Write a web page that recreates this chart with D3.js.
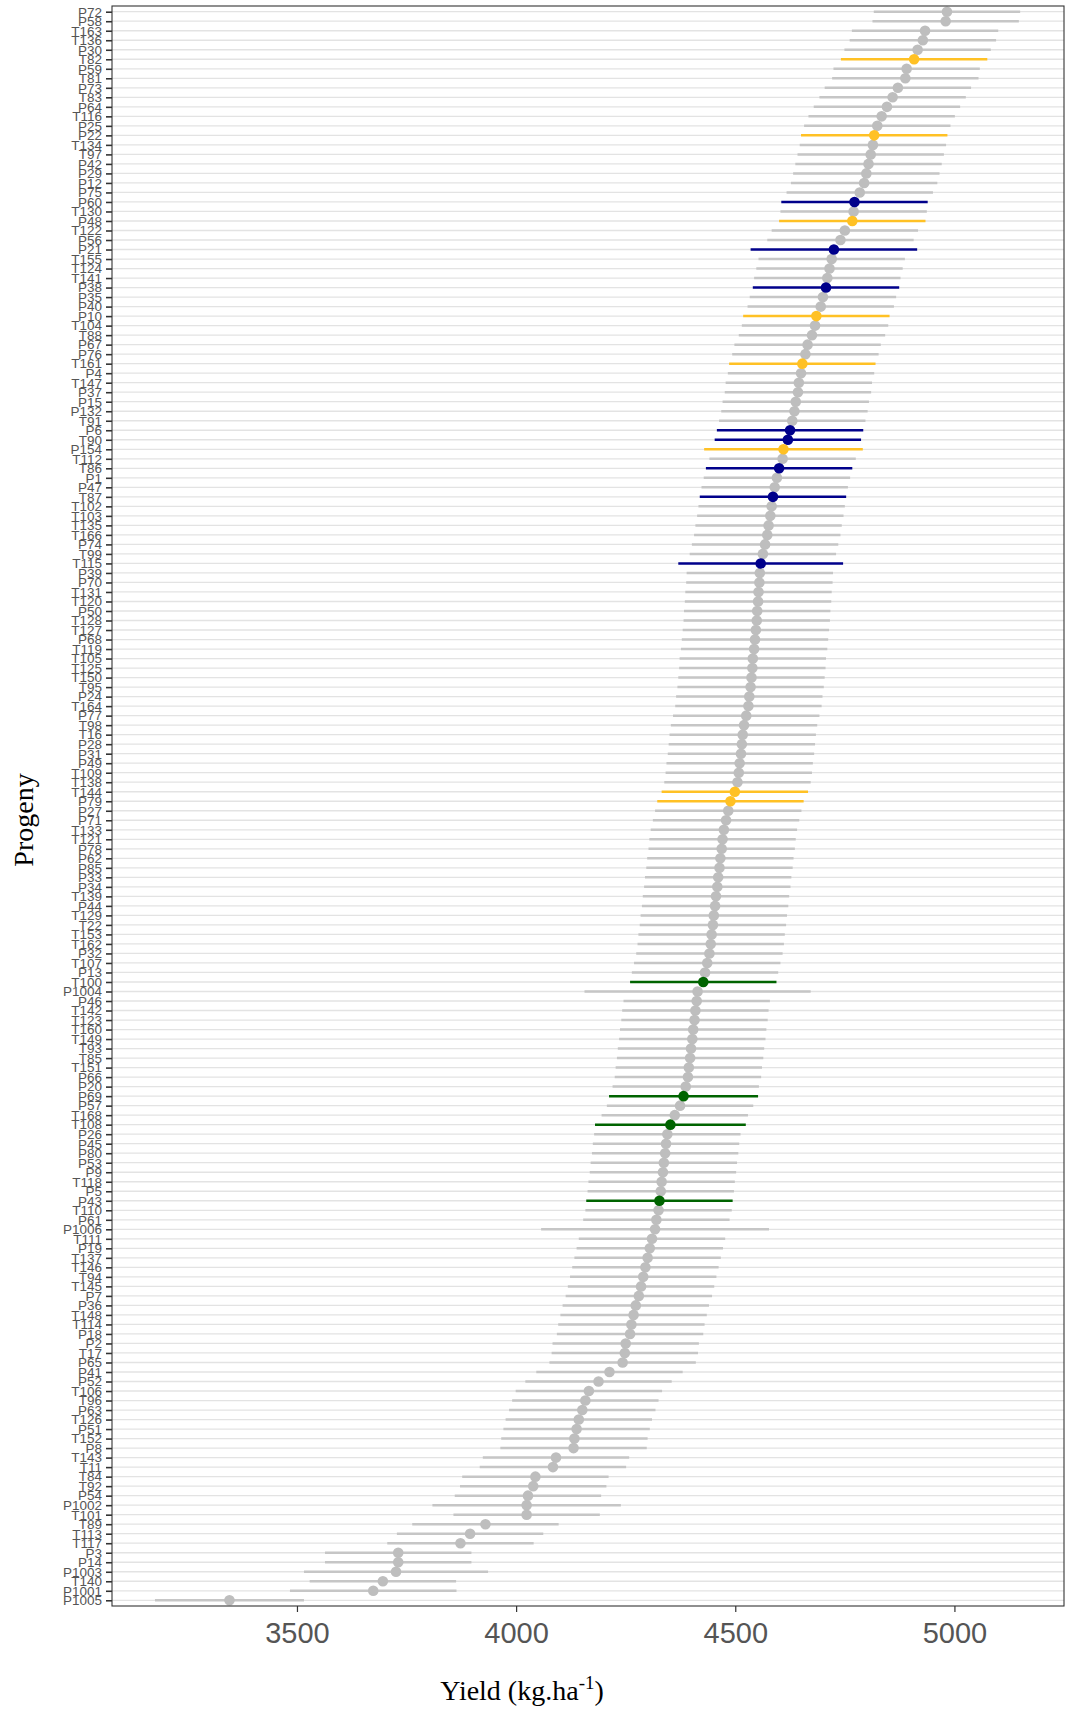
<!DOCTYPE html>
<html>
<head>
<meta charset="utf-8">
<script src="https://cdn.jsdelivr.net/npm/d3@7"></script>
<style>
  body { margin: 0; background: #fff; }
</style>
</head>
<body>
<svg width="1065" height="1710"></svg>
<script>
// progeny, top to bottom as drawn
var progeny = [
  "P72","P58","T163","T136","P30","T82","P59","T81","P73","T83",
  "P64","T116","P25","P22","T134","T97","P42","P29","P12","P75",
  "P60","T130","P48","T122","P56","P21","T155","T124","T141","P38",
  "P35","P40","P10","T104","T88","P67","P76","T161","P4","T147",
  "P37","P15","P132","T91","P6","T90","P154","T112","T86","P1",
  "P47","T87","T102","T103","T135","T166","P74","T99","T115","P39",
  "P70","T131","T120","P50","T128","T127","P68","T119","T105","T125",
  "T150","T95","P24","T164","P77","T98","T16","P28","P31","P49",
  "T109","T138","T144","P79","P27","P71","T133","T121","P78","P62",
  "P85","P33","P34","T139","P44","T129","T22","T153","T162","P32",
  "T107","P13","T100","P1004","P46","T142","T123","T160","T149","T93",
  "T85","T151","P66","P20","P69","P57","T168","T108","P26","P45",
  "P80","P53","P9","T118","P5","P43","T110","P61","P1006","T111",
  "P19","T137","T146","T94","T145","P7","P36","T148","T114","P18",
  "P2","T17","P65","P41","P52","T106","T96","P63","T126","P51",
  "T152","P8","T143","T11","T84","T92","P54","P1002","T101","T89",
  "T113","T117","P3","P14","P1003","T140","P1001","P1005"
];

// mean yield (kg/ha)
var yieldMean = [
  4983,4980,4933,4928,4916,4908,4891,4888,4871,4859,
  4846,4834,4824,4817,4814,4809,4804,4799,4794,4784,
  4772,4770,4767,4750,4740,4725,4720,4715,4710,4707,
  4700,4695,4685,4682,4675,4665,4660,4653,4650,4645,
  4643,4638,4635,4630,4625,4620,4610,4608,4600,4595,
  4590,4586,4583,4580,4576,4573,4568,4563,4558,4556,
  4555,4553,4552,4550,4549,4547,4545,4543,4540,4539,
  4537,4535,4532,4530,4525,4520,4517,4515,4513,4510,
  4508,4505,4499,4489,4484,4479,4474,4471,4469,4466,
  4464,4461,4459,4456,4454,4451,4449,4446,4444,4441,
  4436,4431,4427,4414,4412,4409,4407,4404,4402,4399,
  4397,4394,4392,4387,4382,4374,4362,4352,4345,4342,
  4340,4337,4335,4332,4330,4327,4325,4320,4317,4310,
  4305,4300,4295,4290,4285,4280,4273,4268,4263,4260,
  4250,4248,4243,4213,4188,4166,4158,4151,4143,4138,
  4133,4131,4091,4084,4044,4039,4027,4024,4024,3930,
  3895,3873,3731,3731,3726,3696,3674,3346
];

// half width of the interval drawn around each mean
var ciHalf = [
  167,167,167,167,167,167,167,167,167,167,
  167,167,167,167,167,167,167,167,167,167,
  167,167,167,167,167,190,167,167,167,167,
  167,167,167,167,167,167,167,167,167,167,
  167,167,167,167,167,167,181,167,167,167,
  167,167,167,167,167,167,167,167,188,167,
  167,167,167,167,167,167,167,167,167,167,
  167,167,167,167,167,167,167,167,167,167,
  167,167,167,167,167,167,167,167,167,167,
  167,167,167,167,167,167,167,167,167,167,
  167,167,167,258,167,167,167,167,167,167,
  167,167,167,167,170,167,167,172,167,167,
  167,167,167,167,167,167,167,167,260,167,
  167,167,167,167,167,167,167,167,167,167,
  167,167,167,167,167,167,167,167,167,167,
  167,167,167,167,167,167,167,215,167,167,
  167,167,167,167,210,167,190,170
];

var groupYellow = ["T82","P22","P48","P10","T161","P154","T144","P79"];
var groupNavy   = ["P60","P21","P38","P6","T90","T86","T87","T115"];
var groupGreen  = ["T100","P69","T108","P43"];

var xTicks = [3500, 4000, 4500, 5000];

var svg = d3.select("svg");
var panelLeft = 112, panelRight = 1064, panelTop = 6, panelBottom = 1606;

var x = d3.scaleLinear().domain([3078, 5250]).range([panelLeft, panelRight]);
var y = d3.scalePoint().domain(d3.range(progeny.length)).range([panelTop, panelBottom]).padding(0.6);

function colorOf(name) {
  if (groupYellow.indexOf(name) >= 0) return "#FFC125";
  if (groupNavy.indexOf(name) >= 0) return "#00008B";
  if (groupGreen.indexOf(name) >= 0) return "#006400";
  return null;
}

var rows = progeny.map(function(p, i) {
  return { name: p, i: i, mean: yieldMean[i], lo: yieldMean[i] - ciHalf[i], hi: yieldMean[i] + ciHalf[i], col: colorOf(p) };
});

// grid lines
svg.append("g").selectAll("line")
  .data(rows).enter().append("line")
  .attr("x1", panelLeft).attr("x2", panelRight)
  .attr("y1", function(d) { return y(d.i); })
  .attr("y2", function(d) { return y(d.i); })
  .style("stroke", "#e3e3e3")
  .style("stroke-width", 1.3);

// grey rows first, coloured rows on top
var grey = rows.filter(function(d) { return !d.col; });
var coloured = rows.filter(function(d) { return d.col; });

function drawRows(g, data, barCol, ptCol) {
  g.selectAll("line.bar")
    .data(data).enter().append("line")
    .attr("class", "bar")
    .attr("x1", function(d) { return x(d.lo); })
    .attr("x2", function(d) { return x(d.hi); })
    .attr("y1", function(d) { return y(d.i); })
    .attr("y2", function(d) { return y(d.i); })
    .style("stroke", function(d) { return barCol || d.col; })
    .style("stroke-width", 2.5);
  g.selectAll("circle")
    .data(data).enter().append("circle")
    .attr("cx", function(d) { return x(d.mean); })
    .attr("cy", function(d) { return y(d.i); })
    .attr("r", 5.3)
    .style("fill", function(d) { return ptCol || d.col; });
}

drawRows(svg.append("g"), grey, "#c6c6c6", "#bebebe");
drawRows(svg.append("g"), coloured, null, null);

// panel border
svg.append("rect")
  .attr("x", panelLeft).attr("y", panelTop)
  .attr("width", panelRight - panelLeft).attr("height", panelBottom - panelTop)
  .style("fill", "none")
  .style("stroke", "#333")
  .style("stroke-width", 1.1);

// y axis
var yAxis = svg.append("g")
  .attr("transform", "translate(" + panelLeft + ",0)")
  .call(d3.axisLeft(y).tickSize(6).tickPadding(4).tickFormat(function(i) { return progeny[i]; }));
yAxis.select(".domain").remove();
yAxis.selectAll(".tick line").style("stroke", "#333").style("stroke-width", 1.6);
yAxis.selectAll(".tick text")
  .style("font-family", "'Liberation Sans', Arial, sans-serif")
  .style("font-size", "13.5px")
  .style("fill", "#555");

// x axis
var xAxis = svg.append("g")
  .attr("transform", "translate(0," + panelBottom + ")")
  .call(d3.axisBottom(x).tickValues(xTicks).tickSize(6).tickPadding(10).tickFormat(d3.format("d")));
xAxis.select(".domain").remove();
xAxis.selectAll(".tick line").style("stroke", "#333").style("stroke-width", 1.2);
xAxis.selectAll(".tick text")
  .style("font-family", "'Liberation Sans', Arial, sans-serif")
  .style("font-size", "29px")
  .style("fill", "#555");

// axis titles
var xt = svg.append("text")
  .attr("x", 522).attr("y", 1700)
  .attr("text-anchor", "middle")
  .style("font-family", "'Liberation Serif', 'Times New Roman', serif")
  .style("font-size", "28px")
  .style("fill", "#000");
xt.append("tspan").text("Yield (kg.ha");
xt.append("tspan").attr("dy", -11).style("font-size", "19px").text("-1");
xt.append("tspan").attr("dy", 11).text(")");

svg.append("text")
  .attr("transform", "translate(33,820) rotate(-90)")
  .attr("text-anchor", "middle")
  .style("font-family", "'Liberation Serif', 'Times New Roman', serif")
  .style("font-size", "28px")
  .style("fill", "#000")
  .text("Progeny");
</script>
</body>
</html>
